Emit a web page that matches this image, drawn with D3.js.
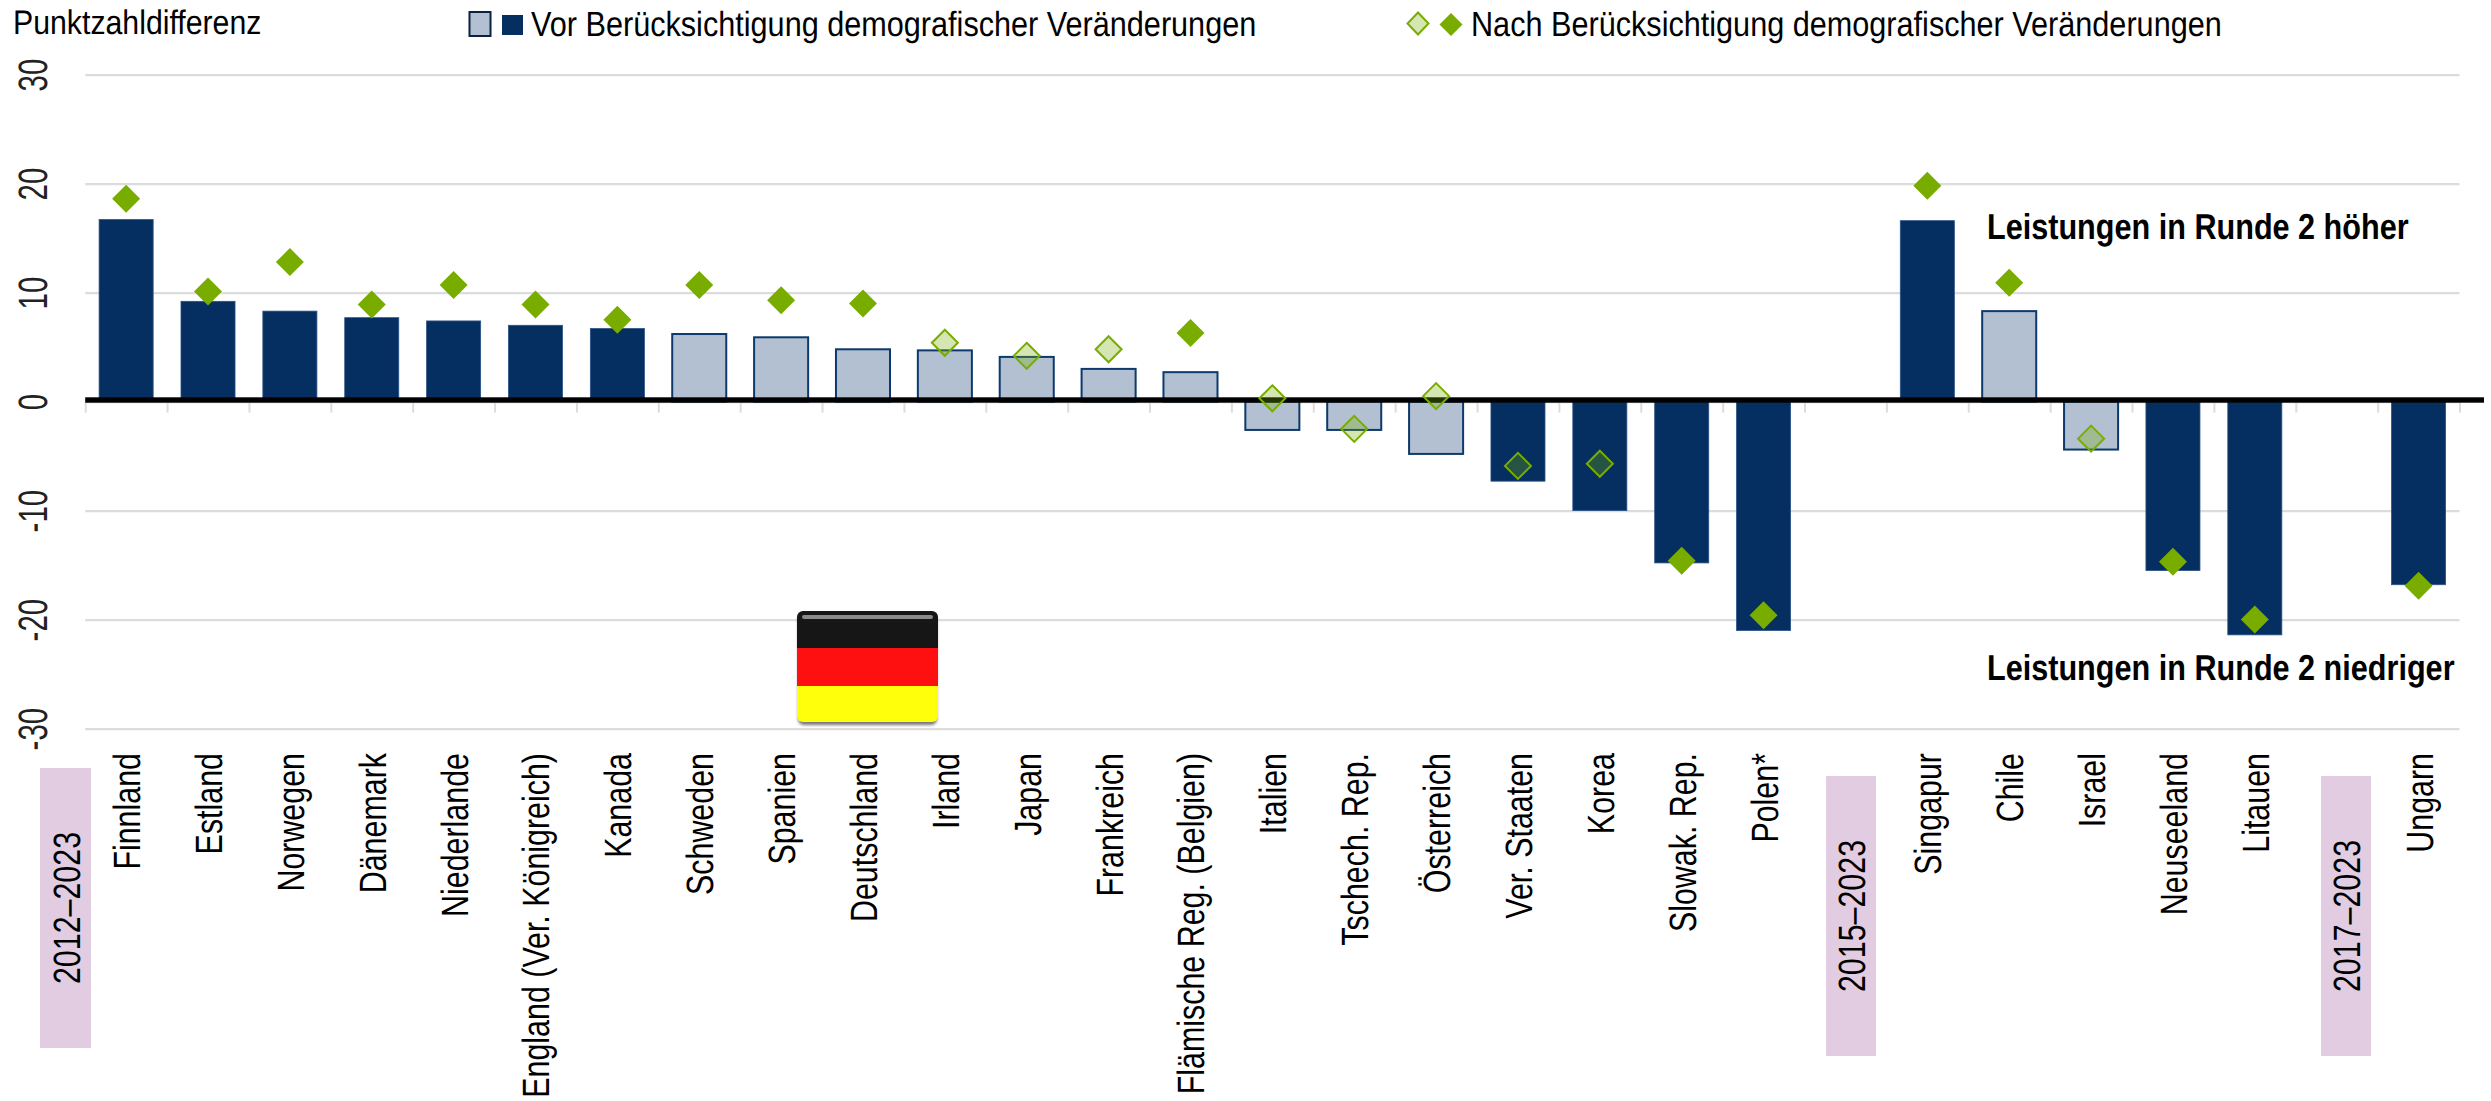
<!DOCTYPE html>
<html><head><meta charset="utf-8">
<script src="https://cdn.jsdelivr.net/npm/d3@7/dist/d3.min.js"></script>
<style>html,body{margin:0;padding:0;background:#fff}svg{display:block}text{font-family:"Liberation Sans",Arial,sans-serif;fill:#000;text-rendering:geometricPrecision}</style>
</head><body><div id="chart"></div>
<script>
const categories=["Finnland","Estland","Norwegen","Dänemark","Niederlande","England (Ver. Königreich)","Kanada","Schweden","Spanien","Deutschland","Irland","Japan","Frankreich","Flämische Reg. (Belgien)","Italien","Tschech. Rep.","Österreich","Ver. Staaten","Korea","Slowak. Rep.","Polen*","gap1","Singapur","Chile","Israel","Neuseeland","Litauen","gap2","Ungarn"];
const beforeValues=[16.7,9.2,8.3,7.7,7.4,7.0,6.7,6.2,5.9,4.8,4.7,4.1,3.0,2.7,-2.6,-2.6,-4.8,-7.3,-10.0,-14.8,-21.0,null,16.6,8.3,-4.4,-15.5,-21.4,null,-16.8];
const afterValues=[18.6,10.1,12.8,8.9,10.7,8.9,7.5,10.7,9.3,9.0,5.4,4.2,4.8,6.3,0.3,-2.5,0.5,-5.9,-5.7,-14.6,-19.6,null,19.8,10.9,-3.4,-14.7,-20.0,null,-16.9];
const beforeSignificant=[1,1,1,1,1,1,1,0,0,0,0,0,0,0,0,0,0,1,1,1,1,0,1,0,0,1,1,0,1];
const afterSignificant=[1,1,1,1,1,1,1,1,1,1,0,0,0,1,0,0,0,0,0,1,1,0,1,1,0,1,1,0,1];
const yTicks=[30,20,10,0,-10,-20,-30];
const yTitle="Punktzahldifferenz";
const legendBefore="Vor Berücksichtigung demografischer Veränderungen";
const legendAfter="Nach Berücksichtigung demografischer Veränderungen";
const noteHigher="Leistungen in Runde 2 höher";
const noteLower="Leistungen in Runde 2 niedriger";
const periods=[{label:"2012–2023",x:40,w:51,y0:768,y1:1048},{label:"2015–2023",x:1826,w:50,y0:776,y1:1056},{label:"2017–2023",x:2321,w:50,y0:776,y1:1056}];

const W=2491,H=1101,NAVY="#042f60",LIGHT="#b2c0d1",EDGE="#0c3a6c",GREEN="#78ad00",GRID="#dcdcdc";
const svg=d3.select("#chart").append("svg").attr("width",W).attr("height",H);
const x=d3.scaleBand().domain(categories).range([85.2,2459.5]).paddingInner(0.34).paddingOuter(0.17);
const y=d3.scaleLinear().domain([-30,30]).range([728.6,74.6]);
const idx=categories.map((c,i)=>i).filter(i=>beforeValues[i]!==null);

function hText(s,tx,ty,size,sx,weight){
  return svg.append("text").attr("transform",`translate(${tx},${ty}) scale(${sx},1)`).attr("font-size",size).attr("font-weight",weight||"normal").text(s);
}
const yAxis=d3.axisLeft(y).tickValues(yTicks).tickSize(-(2459.5-85.2)).tickFormat(d=>String(d));
const gy=svg.append("g").attr("transform","translate(85.2,0)").call(yAxis);
gy.select(".domain").remove();
gy.selectAll("line").attr("stroke",GRID).attr("stroke-width",2.2);
gy.selectAll("text").attr("x",0).attr("y",0).attr("dy",0).attr("text-anchor","middle")
  .attr("font-size",41).style("fill","#222")
  .attr("transform",d=>`translate(-38.5,0) rotate(-90) scale(0.72,1)`);
const edgeScale=d3.scaleLinear().domain([0,categories.length]).range([85.2,2459.5]);
const gt=svg.append("g").attr("transform",`translate(0,${y(0)})`).call(
  d3.axisBottom(edgeScale).tickValues(d3.range(0,categories.length+1)).tickSize(11).tickFormat(""));
gt.select(".domain").remove();
gt.selectAll("line").attr("stroke",GRID).attr("stroke-width",2);
svg.append("g").selectAll("rect").data(idx).join("rect")
  .attr("x",i=>x(categories[i])).attr("width",x.bandwidth())
  .attr("y",i=>y(Math.max(0,beforeValues[i]))).attr("height",i=>Math.abs(y(beforeValues[i])-y(0)))
  .attr("fill",i=>beforeSignificant[i]?NAVY:LIGHT)
  .attr("stroke",i=>beforeSignificant[i]?"#2a5286":EDGE)
  .attr("stroke-width",i=>beforeSignificant[i]?0.8:2);
svg.append("rect").attr("x",85.2).attr("width",2484-85.2).attr("y",397.3).attr("height",5.4).attr("fill","#000");
const diamond=(cx,cy,rx,ry)=>`M${cx},${cy-ry}L${cx+rx},${cy}L${cx},${cy+ry}L${cx-rx},${cy}Z`;
svg.append("g").selectAll("path").data(idx).join("path")
  .attr("d",i=>afterSignificant[i]?diamond(x(categories[i])+x.bandwidth()/2,y(afterValues[i]),14,14):diamond(x(categories[i])+x.bandwidth()/2,y(afterValues[i]),13,13))
  .attr("fill",GREEN).attr("fill-opacity",i=>afterSignificant[i]?1:0.3)
  .attr("stroke",i=>afterSignificant[i]?"none":GREEN).attr("stroke-width",2);
const gx=svg.append("g").attr("transform","translate(0,753)").call(d3.axisBottom(x).tickSize(0).tickFormat(d=>d.startsWith("gap")?"":d));
gx.select(".domain").remove();
gx.selectAll("text").attr("x",0).attr("y",0).attr("dy",0).attr("text-anchor","end")
  .attr("font-size",38).style("fill","#000")
  .attr("transform","translate(14,0) rotate(-90) scale(0.80,1)");
periods.forEach(p=>{
  svg.append("rect").attr("x",p.x).attr("y",p.y0).attr("width",p.w).attr("height",p.y1-p.y0).attr("fill","#e1cce1");
  svg.append("text").attr("transform",`translate(${p.x+p.w/2+14},${(p.y0+p.y1)/2}) rotate(-90) scale(0.8,1)`)
    .attr("text-anchor","middle").attr("font-size",38).text(p.label);
});
hText(yTitle,13,34,34,0.89);
svg.append("rect").attr("x",469.5).attr("y",12).attr("width",21).attr("height",24).attr("fill",LIGHT).attr("stroke","#0a2240").attr("stroke-width",2);
svg.append("rect").attr("x",502).attr("y",15).attr("width",21).attr("height",20).attr("fill",NAVY);
hText(legendBefore,531,36,35,0.875);
svg.append("path").attr("d",diamond(1418,23.5,10.5,11)).attr("fill",GREEN).attr("fill-opacity",0.3).attr("stroke",GREEN).attr("stroke-width",2);
svg.append("path").attr("d",diamond(1451,24.5,11.5,11.5)).attr("fill",GREEN);
hText(legendAfter,1471,36,35,0.875);
hText(noteHigher,1987,239,36,0.85,"bold");
hText(noteLower,1987,680,36,0.85,"bold");
const defs=svg.append("defs");
defs.append("clipPath").attr("id","fc").append("rect").attr("x",797).attr("y",611).attr("width",141).attr("height",111).attr("rx",6);
const glow=defs.append("filter").attr("id","fs");glow.append("feGaussianBlur").attr("stdDeviation",1.5);
svg.append("rect").attr("x",798).attr("y",614).attr("width",139).attr("height",111).attr("rx",6).attr("fill","#777").attr("filter","url(#fs)");
const flag=svg.append("g").attr("clip-path","url(#fc)");
[["#161616",611,37],["#ff1010",648,38],["#ffff0c",686,36]].forEach(([c,yy,h])=>flag.append("rect").attr("x",797).attr("y",yy).attr("width",141).attr("height",h).attr("fill",c));
flag.append("rect").attr("x",802).attr("y",615).attr("width",131).attr("height",4).attr("rx",2).attr("fill","#8a8a8a");
</script></body></html>
